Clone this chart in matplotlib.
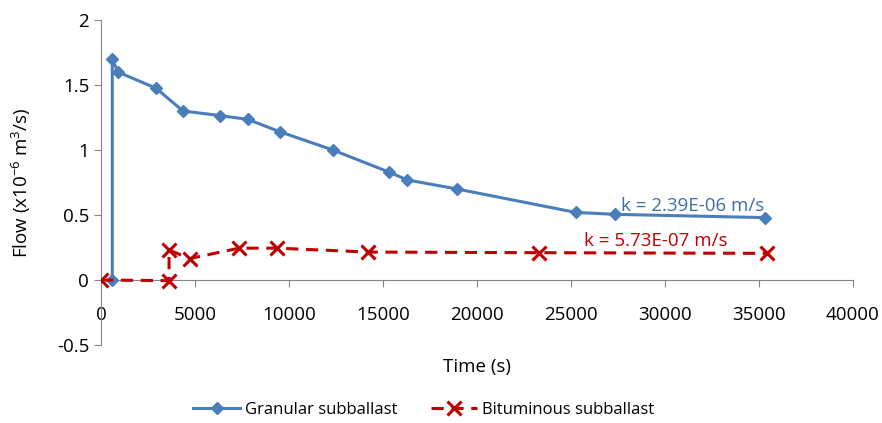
import matplotlib.pyplot as plt
from matplotlib.ticker import FuncFormatter

plt.rcParams['font.family'] = ['Open Sans', 'DejaVu Sans']
plt.rcParams['mathtext.default'] = 'regular'

# Granular subballast
gran_t = [600, 600, 900, 2930, 4360, 6330, 7820, 9520, 12330, 15320, 16280, 18940, 25250, 27340, 35320]
gran_q = [0, 1.70, 1.60, 1.475, 1.30, 1.265, 1.235, 1.14, 1.00, 0.83, 0.77, 0.70, 0.52, 0.505, 0.48]

# Bituminous subballast
bit_t = [0, 3620, 3620, 4730, 7340, 9360, 14200, 23300, 35420]
bit_q = [0, -0.005, 0.23, 0.165, 0.245, 0.245, 0.215, 0.21, 0.205]

k_gran = "k = 2.39E-06 m/s"
k_bit = "k = 5.73E-07 m/s"

blue = '#4A7EBB'
red = '#C00000'
fs = 13.5

fig = plt.figure(figsize=(8.82, 4.23), dpi=100)
ax = fig.add_axes([101/882, 1 - 345/423, (853-101)/882, (345-20)/423])

ax.plot(gran_t, gran_q, color=blue, lw=2.2, marker='D', ms=6.5, label='Granular subballast', zorder=3)
ax.plot(bit_t, bit_q, color=red, lw=2.2, dashes=(4, 2.5), marker='x', ms=10, mew=2.2,
        label='Bituminous subballast', zorder=4)

ax.text(35300, 0.57, k_gran, color='#3F6EA6', fontsize=fs, ha='right', va='center')
ax.text(33300, 0.3, k_bit, color=red, fontsize=fs, ha='right', va='center')

ax.set_xlim(0, 40000)
ax.set_ylim(-0.5, 2)
ax.set_xticks(range(0, 40001, 5000))
ax.set_yticks([-0.5, 0, 0.5, 1, 1.5, 2])
ax.yaxis.set_major_formatter(FuncFormatter(lambda v, p: '%g' % v))

for s in ['top', 'right']:
    ax.spines[s].set_visible(False)
ax.spines['bottom'].set_position(('data', 0))
for s in ['left', 'bottom']:
    ax.spines[s].set_color('#868686')
ax.tick_params(direction='out', length=5, color='#868686', labelsize=fs, labelcolor='black')
ax.tick_params(axis='x', pad=14)

ax.set_xlabel('Time (s)', fontsize=fs)
ax.xaxis.set_label_coords(0.5, -0.04)
ax.set_ylabel('Flow (x10$^{-6}$ m$^{3}$/s)', fontsize=fs)
ax.yaxis.set_label_coords(-0.09, 0.5)

fig.legend(loc='center', bbox_to_anchor=(424/882, 1 - 410/423), ncol=2, frameon=False,
           fontsize=12, handlelength=2.8, columnspacing=2.0, handletextpad=0.3)

fig.savefig('out.png', dpi=100)
